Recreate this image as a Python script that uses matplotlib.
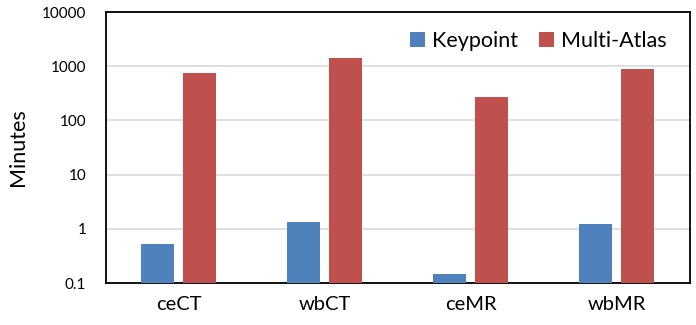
import numpy as np
import matplotlib.pyplot as plt

plt.rcParams['font.family'] = ['Lato', 'DejaVu Sans']

categories = ['ceCT', 'wbCT', 'ceMR', 'wbMR']
keypoint = [0.52, 1.35, 0.15, 1.24]
multi_atlas = [750, 1390, 270, 890]

blue = '#4F81BD'
red = '#C0504D'

fig = plt.figure(figsize=(6.96, 3.25), dpi=100)
ax = fig.add_axes([0.152, 0.129, 0.839, 0.834])

x = np.arange(len(categories))
w = 0.226
off = 0.144
ax.bar(x - off, keypoint, w, color=blue, label='Keypoint', zorder=3)
ax.bar(x + off, multi_atlas, w, color=red, label='Multi-Atlas', zorder=3)

ax.set_yscale('log')
ax.set_ylim(0.1, 10000)
ax.set_xlim(-0.5, len(categories) - 0.5)
ticks = [0.1, 1, 10, 100, 1000, 10000]
ax.set_yticks(ticks)
ax.set_yticklabels(['0.1', '1', '10', '100', '1000', '10000'])
ax.minorticks_off()
ax.set_xticks(x)
ax.set_xticklabels(categories, fontsize=14.5)
ax.tick_params(axis='y', labelsize=11, length=0, pad=14)
ax.tick_params(axis='x', length=0, pad=9)
ax.yaxis.grid(True, color='#D9D9D9', linewidth=1.2, zorder=0)

for s in ax.spines.values():
    s.set_linewidth(1.3)
    s.set_color('black')

ax.set_ylabel('Minutes', fontsize=15.5, labelpad=10)

ax.legend(loc='upper right', ncol=2, frameon=False, fontsize=15.5,
          handlelength=0.7, handleheight=0.7, handletextpad=0.3,
          columnspacing=1.0, bbox_to_anchor=(0.993, 1.0))

fig.savefig('out.png', dpi=100)
